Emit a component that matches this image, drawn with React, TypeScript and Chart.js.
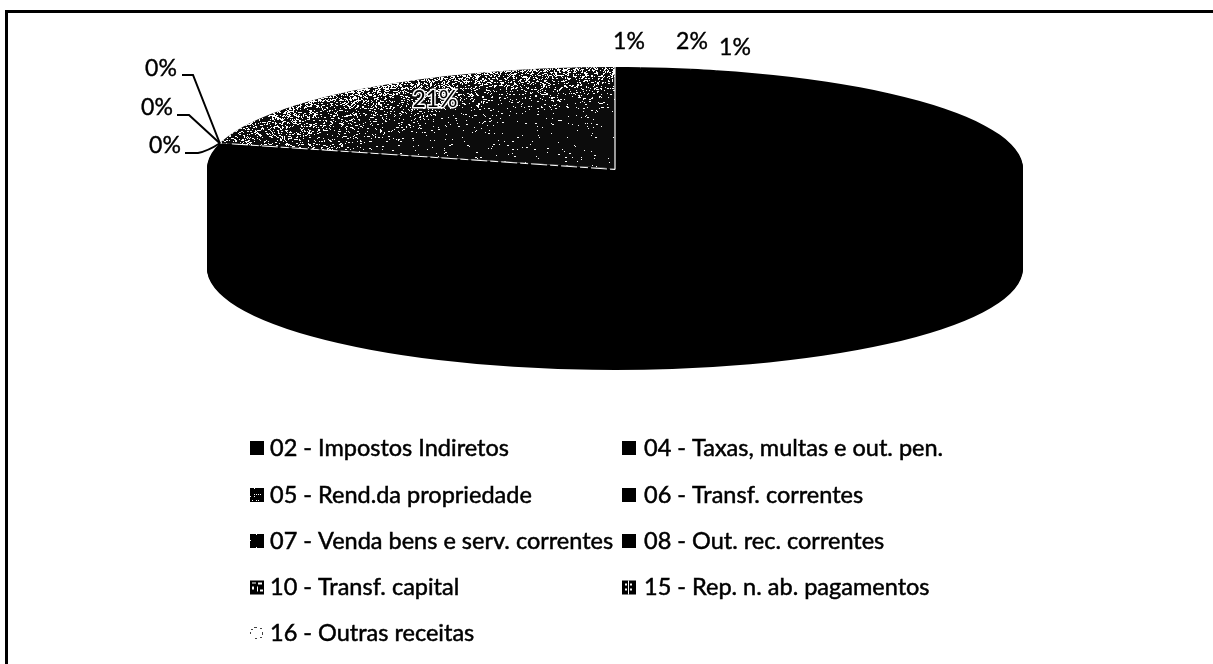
import React, { useEffect, useRef } from "react";
import { Chart, registerables } from "chart.js";

Chart.register(...registerables);

const categories = [
  "02 - Impostos Indiretos",
  "04 - Taxas, multas e out. pen.",
  "05 - Rend.da propriedade",
  "06 - Transf. correntes",
  "07 - Venda bens e serv. correntes",
  "08 - Out. rec. correntes",
  "10 - Transf. capital",
  "15 - Rep. n. ab. pagamentos",
  "16 - Outras receitas",
];
const shares = [75, 0, 21, 1, 2, 1, 0, 0, 0];
const sliceColors = ["#000", "#000", "#0c0c0c", "#000", "#000", "#000", "#000", "#000", "#000"];

// layout (not data)
const FONT = "Lato, Carlito, sans-serif";
const PIE = { cx: 615, cy: 168.5, rx: 408, ry: 101.5, depth: 100 };
const LEGEND_X = [250, 622];
const LEGEND_TEXT_GAP = [20, 22];
const LEGEND_Y = [448, 495, 541, 587.5, 633];
const LEGEND_CELLS: [number, number][] = [
  [0, 0], [1, 0], [0, 1], [1, 1], [0, 2], [1, 2], [0, 3], [1, 3], [0, 4],
];
// index of a category -> where its value text is put
const LABEL_SPOTS: Record<number, { x: number; y: number; elbow?: [number, number, number, number]; curved?: boolean }> = {
  2: { x: 435, y: 100 },
  3: { x: 629, y: 42 },
  4: { x: 692, y: 42 },
  5: { x: 735, y: 48 },
  6: { x: 161, y: 69, elbow: [182, 75, 193, 75] },
  7: { x: 157, y: 108, elbow: [177, 115, 189, 115] },
  8: { x: 165, y: 146, elbow: [185, 153, 198, 153], curved: true },
};

const hash = (x: number, y: number) => {
  const s = Math.sin(x * 12.9898 + y * 78.233) * 43758.5453;
  return s - Math.floor(s);
};

const piePoint = (a: number) => ({
  x: PIE.cx + PIE.rx * Math.cos(a),
  y: PIE.cy + PIE.ry * Math.sin(a),
});

function drawSwatch(ctx: CanvasRenderingContext2D, i: number, x: number, y: number) {
  const s = 14;
  const top = y - s / 2;
  ctx.fillStyle = i === 8 ? "#fff" : "#000";
  ctx.fillRect(x, top, s, s);
  ctx.fillStyle = i === 8 ? "#444" : "#fff";
  if (i === 2) {
    for (let a = 0; a < s; a += 2) for (let b = 0; b < s; b += 2) {
      if (hash(a + 3, b + 7) < 0.28) ctx.fillRect(x + a, top + b, 1, 1);
    }
  } else if (i === 4) {
    ctx.fillRect(x + 6, top, 1, 1);
    ctx.fillRect(x + 6, top + 13, 1, 1);
    ctx.fillRect(x, top + 6, 1, 1);
  } else if (i === 6) {
    ctx.fillRect(x + 2, top + 2, 4, 1);
    ctx.fillRect(x + 8, top + 2, 4, 2);
    ctx.fillRect(x + 2, top + 6, 2, 3);
    ctx.fillRect(x + 7, top + 6, 1, 5);
    ctx.fillRect(x + 10, top + 9, 3, 2);
  } else if (i === 7) {
    ctx.fillRect(x + 3, top + 3, 2, 2);
    ctx.fillRect(x + 8, top + 3, 2, 2);
    ctx.fillRect(x + 3, top + 8, 2, 2);
    ctx.fillRect(x + 8, top + 8, 2, 2);
    ctx.fillRect(x + 6, top, 1, 14);
  } else if (i === 8) {
    ctx.fillRect(x + 1, top + 3, 2, 1);
    ctx.fillRect(x, top + 6, 1, 2);
    ctx.fillRect(x + 4, top + 1, 3, 1);
    ctx.fillRect(x + 10, top + 2, 2, 1);
    ctx.fillRect(x + 12, top + 6, 1, 3);
    ctx.fillRect(x + 5, top + 12, 2, 1);
    ctx.fillRect(x + 10, top + 11, 2, 1);
  }
}

const pie3d = {
  id: "pie3d",
  beforeDatasetsDraw(chart: any) {
    const ctx: CanvasRenderingContext2D = chart.ctx;
    const arcs = chart.getDatasetMeta(0).data;
    const { x, y, outerRadius: r } = arcs[0];
    const place = (dy: number) => {
      ctx.translate(PIE.cx, PIE.cy + dy);
      ctx.scale(PIE.rx / r, PIE.ry / r);
      ctx.translate(-x, -y);
    };
    for (let d = PIE.depth; d >= 1; d -= 1) {
      ctx.save();
      place(d);
      arcs.forEach((arc: any, i: number) => {
        if (i !== 2) arc.draw(ctx);
      });
      ctx.restore();
    }
    ctx.save();
    place(0);
  },
  afterDatasetsDraw(chart: any) {
    const ctx: CanvasRenderingContext2D = chart.ctx;
    ctx.restore();
    const meta = chart.getDatasetMeta(0);
    const grey = meta.data[2];
    const a0 = grey.startAngle;
    const a1 = grey.endAngle;

    // speckle of the "05" slice
    ctx.save();
    ctx.beginPath();
    ctx.moveTo(PIE.cx, PIE.cy);
    ctx.ellipse(PIE.cx, PIE.cy, PIE.rx, PIE.ry, 0, a0, a1);
    ctx.closePath();
    ctx.clip();
    ctx.fillStyle = "#fff";
    for (let py = 64; py < 172; py += 1) {
      for (let px = 210; px < 618; px += 1) {
        const rho = Math.hypot((px - PIE.cx) / PIE.rx, (py - PIE.cy) / PIE.ry);
        const p = 0.012 + 0.36 * rho ** 5;
        const tip = px < 270 ? 0.55 : 1;
        if (hash(px, py) < p * tip) {
          ctx.fillRect(px, py, hash(py, px) > 0.7 ? 2 : 1, 1);
        }
      }
    }
    ctx.restore();

    // white seams along the two radii of that slice
    const pa = piePoint(a0);
    const pb = piePoint(a1);
    ctx.strokeStyle = "#fff";
    ctx.save();
    ctx.lineWidth = 1;
    ctx.setLineDash([16, 3, 8, 3]);
    ctx.beginPath();
    ctx.moveTo(pa.x + 12, pa.y + 0.6);
    ctx.lineTo(PIE.cx, PIE.cy + 1);
    ctx.stroke();
    ctx.setLineDash([]);
    ctx.lineWidth = 1.2;
    ctx.beginPath();
    ctx.moveTo(PIE.cx, PIE.cy + 1);
    ctx.lineTo(pb.x, pb.y);
    ctx.stroke();
    ctx.restore();

    // value labels
    const total = shares.reduce((s, v) => s + v, 0);
    ctx.textAlign = "center";
    ctx.textBaseline = "middle";
    Object.keys(LABEL_SPOTS).forEach((key) => {
      const i = Number(key);
      const spot = LABEL_SPOTS[i];
      const text = `${Math.round((shares[i] / total) * 100)}%`;
      ctx.font = `400 23px ${FONT}`;
      if (i === 2) {
        ctx.lineWidth = 3;
        ctx.strokeStyle = "#fff";
        ctx.strokeText(text, spot.x, spot.y);
        ctx.fillStyle = "#000";
        ctx.fillText(text, spot.x, spot.y);
        return;
      }
      ctx.fillStyle = "#000";
      ctx.fillText(text, spot.x, spot.y);
      ctx.strokeStyle = "#000";
      ctx.lineWidth = 0.4;
      ctx.strokeText(text, spot.x, spot.y);
      if (spot.elbow) {
        const [x0, y0, x1, y1] = spot.elbow;
        ctx.lineWidth = 2;
        ctx.beginPath();
        ctx.moveTo(x0, y0);
        ctx.lineTo(x1, y1);
        if (spot.curved) ctx.quadraticCurveTo(208, 151, pa.x, pa.y);
        else ctx.lineTo(pa.x, pa.y);
        ctx.stroke();
      }
    });

    // legend
    ctx.textAlign = "left";
    ctx.font = `400 23.5px ${FONT}`;
    categories.forEach((name, i) => {
      const [col, row] = LEGEND_CELLS[i];
      const x = LEGEND_X[col];
      const y = LEGEND_Y[row];
      drawSwatch(ctx, i, x, y);
      ctx.fillStyle = "#000";
      ctx.fillText(name, x + LEGEND_TEXT_GAP[col], y);
      ctx.strokeStyle = "#000";
      ctx.lineWidth = 0.5;
      ctx.strokeText(name, x + LEGEND_TEXT_GAP[col], y);
    });

    // frame of the scanned page
    ctx.fillStyle = "#000";
    ctx.fillRect(6, 10, 1207, 3);
    ctx.fillRect(5, 10, 3, 654);
  },
};

export default function App() {
  const ref = useRef<HTMLCanvasElement>(null);
  useEffect(() => {
    document.body.style.margin = "0";
    document.body.style.background = "#fff";
    const chart = new Chart(ref.current!, {
      type: "pie",
      data: {
        labels: categories,
        datasets: [
          {
            data: shares,
            backgroundColor: sliceColors,
            borderWidth: 0,
            clip: false,
          } as any,
        ],
      },
      options: {
        animation: false,
        responsive: false,
        devicePixelRatio: 1,
        rotation: 14.4,
        plugins: { legend: { display: false }, tooltip: { enabled: false } },
      },
      plugins: [pie3d],
    });
    return () => chart.destroy();
  }, []);
  return (
    <canvas
      ref={ref}
      width={1213}
      height={664}
      style={{ position: "fixed", left: 0, top: 0, display: "block" }}
    />
  );
}
